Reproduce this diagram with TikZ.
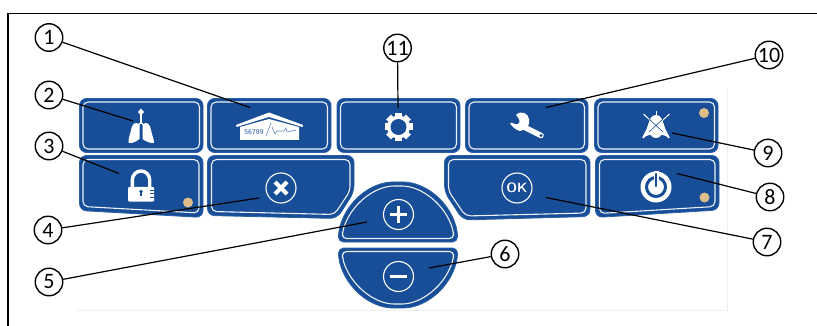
\documentclass[tikz,border=0pt]{standalone}
\usepackage{fontspec}
\setmainfont{Carlito}
\definecolor{panelblue}{HTML}{174E97}
\definecolor{edgeblue}{HTML}{2A5FA6}
\definecolor{lampcol}{HTML}{DDBD8A}
\definecolor{faintline}{HTML}{EFEFEF}
\tikzset{
  shell/.style={fill=panelblue,draw=edgeblue,line width=0.8pt,rounded corners=7pt},
  inset/.style={draw=white!92!panelblue,line width=1.1pt,rounded corners=5pt},
  callout/.style={circle,draw=black,line width=1.4pt,fill=white,minimum size=27.5pt,inner sep=0pt,font=\fontsize{22}{22}\selectfont},
  leader/.style={draw=black,line width=1.2pt},
  lamp/.style={fill=lampcol,draw=none},
  ringline/.style={draw=white,line width=1.1pt},
  glyph/.style={draw=white,line width=3.6pt},
  ico/.style={fill=white,draw=none},
}
\newcommand{\topkey}[2]{%
  \path[shell] (#1,98.5) rectangle (#2,152.5);
  \path[inset] (#1+3.5,102) rectangle (#2-3.5,149);
}
\begin{document}
\begin{tikzpicture}[x=1pt,y=-1pt]
\useasboundingbox (0,0) rectangle (817,326);
% frame and faint panel edge
\draw[faintline,line width=0.8pt] (76,310) -- (727,310) -- (727,88);
\draw[black,line width=1.8pt] (8,326) -- (8,13.5) -- (817,13.5);
% top row
\topkey{79.5}{203}
\topkey{207.5}{331}
\topkey{337}{460}
\topkey{465.5}{588}
\topkey{594.5}{718}
% key 3
\path[shell] (79.5,155.5) -- (203,155.5) -- (203,217.5) -- (79.5,210.5) -- cycle;
\path[inset] (83,159.5) -- (199,159.5) -- (199,213) -- (83,206.5) -- cycle;
% key 4
\path[shell] (207.5,155.5) -- (354,155.5) -- (354,192) -- (337,218.5) -- (207.5,215.5) -- cycle;
\path[inset] (211.5,159.5) -- (350,159.5) -- (350,191) -- (334.5,214.5) -- (211.5,211.5) -- cycle;
% key OK
\path[shell] (444.5,155.5) -- (590,155.5) -- (590,216.5) -- (463,220) -- (444.5,192) -- cycle;
\path[inset] (448.5,159.5) -- (586,159.5) -- (586,213) -- (465.5,216) -- (448.5,191) -- cycle;
% key power
\path[shell] (595.5,155.5) -- (719,155.5) -- (719,210) -- (595.5,217.5) -- cycle;
\path[inset] (599.5,159.5) -- (715,159.5) -- (715,206.5) -- (599.5,213.5) -- cycle;
% plus dome
\path[fill=panelblue,draw=edgeblue,line width=0.8pt,rounded corners=5pt]
  (338.5,242) -- (338.5,232) .. controls (347,200) and (372,182) .. (398,182)
  .. controls (424,182) and (449,200) .. (457.5,232) -- (457.5,242) -- cycle;
\path[draw=white!92!panelblue,line width=1.1pt,rounded corners=4pt]
  (342.5,238.5) -- (342.5,232) .. controls (351,204) and (375,186) .. (398,186)
  .. controls (421,186) and (445,204) .. (453.5,232) -- (453.5,238.5) -- cycle;
% minus dome
\path[fill=panelblue,draw=edgeblue,line width=0.8pt,rounded corners=5pt]
  (338.5,248) -- (338.5,258) .. controls (347,290) and (372,308) .. (398,308)
  .. controls (424,308) and (449,290) .. (457.5,258) -- (457.5,248) -- cycle;
\path[draw=white!92!panelblue,line width=1.1pt,rounded corners=4pt]
  (342.5,251.5) -- (342.5,258) .. controls (351,286) and (375,304) .. (398,304)
  .. controls (421,304) and (445,286) .. (453.5,258) -- (453.5,251.5) -- cycle;
% lamps
\fill[lamp] (188,202.5) circle (5);
\fill[lamp] (704,113) circle (5);
\fill[lamp] (704.5,197.5) circle (5);
% lungs
\draw[white,line width=1.3pt] (141,113) -- (141,124);
\fill[white] (141,108.5) -- (144,112) -- (141,115.5) -- (138,112) -- cycle;
\draw[white,line width=0.9pt] (141,122) -- (137,127) (141,122) -- (145,127);
\path[ico] (139.5,124) .. controls (134,121) and (132,125) .. (131,130)
  .. controls (130,135) and (128,139) .. (128.5,143)
  .. controls (133,143.5) and (136,141.5) .. (139.5,139) -- cycle;
\path[ico] (142.5,124) .. controls (148,121) and (150,125) .. (151,130)
  .. controls (152,135) and (154,139) .. (154,143)
  .. controls (150,143.5) and (146,141.5) .. (142.5,139) -- cycle;
% house
\path[ico] (236,125) -- (269,112.5) -- (303,125) -- (302.5,127) -- (269,117) -- (236.5,127) -- cycle;
\path[ico] (240,127) -- (269,119) -- (299,127) -- (299,140) -- (240,140) -- cycle;
\node[text=edgeblue!75!white,font=\sffamily\bfseries\fontsize{7}{7}\selectfont,inner sep=0pt] (monitorvalue) at (254,132) {56789};
\draw[edgeblue!75!white,line width=0.6pt] (266,136) -- (271,123);
\draw[edgeblue!75!white,line width=0.6pt] (272,127) -- (275,134) -- (277,131) -- (284,131) -- (286,128) -- (287,132) -- (296,130);
% gear
\foreach \a in {0,45,...,315}{
  \fill[white,rotate around={\a:(398.5,127)}] (395,113) rectangle (402,120);
}
\fill[white] (398.5,127) circle (11.5);
\fill[panelblue] (398.5,127) circle (8);
% wrench
\draw[white,line width=5.5pt,line cap=round] (524,127) -- (541,135.5);
\path[ico] (510,123) .. controls (512,122) and (515,125) .. (518,124)
  .. controls (521,122) and (519,118) .. (516,115) .. controls (521,110) and (528,113) .. (529,119)
  .. controls (530,122) and (529,125) .. (526,129) -- (520,131)
  .. controls (516,130) and (512,127) .. (510,123) -- cycle;
\fill[panelblue] (541,135.5) circle (1.6);
% silenced bell
\draw[white,line width=1pt] (656,111.5) -- (656,118);
\draw[white,line width=1pt] (643.5,114) -- (669,138);
\draw[white,line width=1pt] (669.5,114) -- (643,138);
\path[ico] (656,115) .. controls (651,115) and (649.5,120) .. (648,125)
  .. controls (647,129) and (644,134) .. (642,138)
  .. controls (645,136) and (649,135) .. (651,135)
  .. controls (652,139) and (660,139) .. (661,135)
  .. controls (663,135) and (667,136) .. (670,138)
  .. controls (668,134) and (665,129) .. (664,125)
  .. controls (662.5,120) and (661,115) .. (656,115) -- cycle;
\draw[panelblue,line width=0.6pt] (649,119) -- (663,132) (663,119) -- (649,132);
% lock
\draw[white,line width=3.4pt] (132.3,188) -- (132.3,180) arc[start angle=180,end angle=360,x radius=8.7,y radius=9] -- (149.7,188);
\path[ico,rounded corners=1pt] (128,187) rectangle (154,201.5);
\fill[panelblue] (141,191.5) circle (1.9);
\fill[panelblue] (140.2,192) rectangle (141.8,196);
\draw[panelblue,line width=0.7pt] (150,190) -- (154,190) (150,193.5) -- (154,193.5) (150,197) -- (154,197);
% cancel
\draw[ringline] (281,188) circle (15);
\draw[glyph,line width=4.2pt] (275,182) -- (287,194) (287,182) -- (275,194);
% plus
\draw[ringline] (398.5,214.5) circle (15);
\draw[glyph] (390,214.5) -- (407,214.5) (398.5,206) -- (398.5,223);
% minus
\draw[ringline] (398.5,276.5) circle (15);
\draw[glyph] (390,276.5) -- (407,276.5);
% OK
\draw[ringline] (517,188) circle (15);
\node[text=white,font=\sffamily\bfseries\fontsize{13.5}{14}\selectfont,inner sep=0pt] (okword) at (517,188) {OK};
% power
\fill[white] (656,187) circle (15.5);
\draw[panelblue,line width=3pt] (656,187) circle (9.5);
\draw[white,line width=5pt] (656,171.5) -- (656,186);
\draw[panelblue,line width=2.4pt,line cap=round] (656,174) -- (656,186);
% callouts
\node[callout] (c1) at (49,37.5) {1};
\node[callout] (c2) at (49,95) {2};
\node[callout] (c3) at (49,146) {3};
\node[callout] (c4) at (48,230) {4};
\node[callout] (c5) at (49,282) {5};
\node[callout] (c6) at (505,254) {6};
\node[callout] (c7) at (767,242) {7};
\node[callout] (c8) at (770,197) {8};
\node[callout] (c9) at (768,153) {9};
\node[callout] (c10) at (769,55) {10};
\node[callout] (c11) at (397.5,48) {11};
% leader ends
\coordinate (e1) at (250,107.5);
\coordinate (e2) at (133,121);
\coordinate (e3) at (119,173.5);
\coordinate (e4) at (259,198);
\coordinate (e5) at (367,222);
\coordinate (e6) at (429,268);
\coordinate (e7) at (546,197.5);
\coordinate (e8) at (677,173.5);
\coordinate (e9) at (672,133);
\coordinate (e10) at (546,107.5);
\coordinate (e11) at (398,108);
\foreach \n in {1,...,11}{ \draw[leader] (c\n) -- (e\n); }
\end{tikzpicture}
\end{document}
